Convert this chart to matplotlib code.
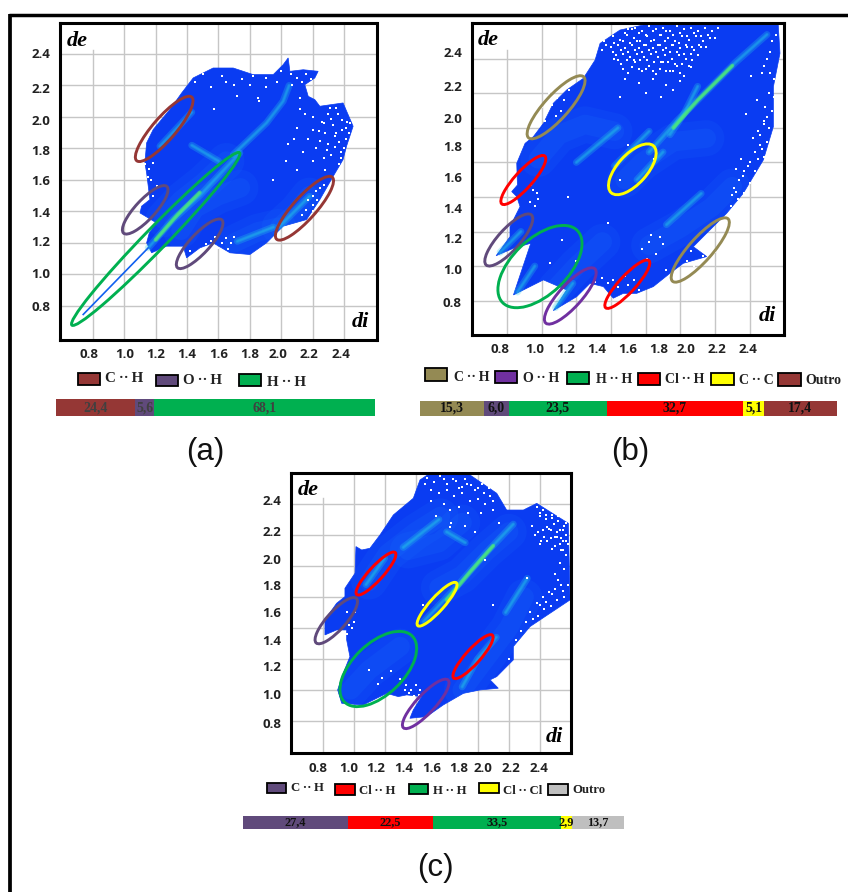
from matplotlib import pyplot as plt
from matplotlib.patches import Ellipse, Polygon, Rectangle
import numpy as np

BROWN = "#953735"
SLATE = "#604a7b"
GREEN = "#00b050"
RED = "#ff0000"
YELLOW = "#ffff00"
TAN = "#948a54"
PURPLE = "#7030a0"
GRAY = "#bfbfbf"
BLUE = "#0a3cf2"
SANS = ["Open Sans", "DejaVu Sans"]
SERIF = ["Liberation Serif", "DejaVu Serif"]

tickLabels = ["0.8", "1.0", "1.2", "1.4", "1.6", "1.8", "2.0", "2.2", "2.4"]

# panel a
aOutlineX = [1.174, 1.142, 1.159, 1.205, 1.10, 1.11, 1.163, 1.142, 1.131, 1.142, 1.184, 1.29, 1.365, 1.439, 1.566,
             1.694, 1.821, 1.949, 2.012, 2.044, 2.055, 2.14, 2.235, 2.214, 2.15, 2.172, 2.214, 2.246, 2.394, 2.458,
             2.416, 2.394, 2.331, 2.246, 2.161, 2.012, 1.906, 1.80, 1.673, 1.566, 1.481, 1.397, 1.375, 1.269]
aOutlineY = [1.137, 1.20, 1.263, 1.327, 1.39, 1.433, 1.475, 1.644, 1.708, 1.835, 1.92, 2.047, 2.152, 2.248, 2.311,
             2.311, 2.269, 2.269, 2.332, 2.375, 2.29, 2.30, 2.29, 2.248, 2.205, 2.131, 2.11, 2.068, 2.089, 1.941,
             1.814, 1.729, 1.623, 1.475, 1.348, 1.306, 1.20, 1.126, 1.137, 1.20, 1.168, 1.105, 1.179, 1.179]
aSpeckX = [2.2, 2.26, 2.3, 2.33, 2.36, 2.28, 2.34, 2.39, 2.42, 2.37, 2.3, 2.25, 2.41, 2.43, 2.2, 2.17, 2.22, 2.32,
           2.38, 2.27, 2.2, 2.14, 2.1, 2.08, 2.04, 1.45, 1.5, 1.62, 1.75, 1.8, 1.9, 1.97, 1.86, 2.1, 2.16, 2.19,
           2.06, 2.12, 2.15, 1.72, 2.2, 2.22, 2.25, 2.27, 2.2, 2.17, 2.23, 2.16, 2.2, 2.13, 2.27, 1.13, 1.16, 1.18,
           1.15, 1.17, 1.14, 1.18, 1.21, 1.58, 1.62, 1.65, 1.68, 1.6, 1.66, 1.7, 1.55, 1.52, 1.57, 1.85, 2.03, 1.95,
           2.1, 1.42, 2.35, 2.39, 2.31, 2.28, 2.4, 2.44, 2.37, 2.32, 2.35, 2.27, 2.41, 2.24, 2.34, 2.38, 2.29, 2.12,
           2.07, 1.9, 1.7, 1.55, 1.65, 1.82, 2.0, 2.13]
aSpeckY = [2.0, 1.97, 2.02, 1.95, 2.02, 1.9, 1.88, 1.92, 1.97, 1.84, 1.83, 1.85, 1.86, 1.9, 1.92, 1.86, 1.8, 1.76,
           1.78, 1.74, 1.72, 1.78, 1.93, 1.86, 1.83, 2.22, 2.27, 2.26, 2.24, 2.2, 2.25, 2.22, 2.1, 2.25, 2.27, 2.24,
           2.27, 2.12, 2.02, 2.13, 1.5, 1.53, 1.55, 1.5, 1.44, 1.47, 1.47, 1.41, 1.4, 1.38, 1.57, 1.7, 1.67, 1.71,
           1.62, 1.6, 1.55, 1.5, 1.56, 1.24, 1.2, 1.23, 1.2, 1.17, 1.16, 1.24, 1.21, 1.19, 2.05, 2.12, 1.72, 1.6,
           1.66, 1.15, 2.06, 1.98, 2.06, 1.66, 1.8, 1.96, 1.7, 1.99, 1.9, 1.96, 1.93, 1.91, 1.81, 1.74, 1.79, 2.05,
           2.2, 2.19, 2.2, 2.19, 2.22, 2.26, 2.29, 2.22]
aSoftX = [[1.25, 1.36, 1.5, 1.65], [1.36, 1.45, 1.6, 1.74], [1.99, 2.1, 2.18], [1.7, 1.85, 1.98]]
aSoftY = [[1.35, 1.47, 1.58, 1.72], [1.28, 1.42, 1.5, 1.55], [1.3, 1.4, 1.5], [1.2, 1.27, 1.3]]
aRidgeX = [[1.152, 1.31, 1.48, 1.736], [1.694, 1.906, 2.012, 2.05], [1.227, 1.43], [1.99, 2.18], [1.43, 1.6], [1.72, 1.95]]
aRidgeY = [[1.168, 1.348, 1.5, 1.771], [1.761, 1.962, 2.1, 2.2], [1.814, 2.03], [1.306, 1.496], [1.82, 1.72], [1.21, 1.3]]
aHotX = [[1.2, 1.34, 1.48]]
aHotY = [[1.22, 1.38, 1.52]]
aTailX = [0.738, 1.152]
aTailY = [0.745, 1.168]
aEllipses = [(1.254, 1.924, 0.535, 0.145, 49, BROWN), (2.148, 1.42, 0.53, 0.145, 48, BROWN),
             (1.133, 1.41, 0.405, 0.125, 47, SLATE), (1.48, 1.194, 0.415, 0.125, 47, SLATE),
             (1.20, 1.225, 1.53, 0.14, 45.7, GREEN)]
aTickX = [0.777, 1.004, 1.197, 1.399, 1.60, 1.802, 1.976, 2.176, 2.378]
aTickY = [0.802, 1.007, 1.213, 1.399, 1.60, 1.79, 1.983, 2.186, 2.406]
aGrid = [0.8, 1.0, 1.2, 1.4, 1.6, 1.8, 2.0, 2.2, 2.4]

# panel b
bOutlineX = [0.837, 0.885, 0.937, 0.837, 0.737, 0.817, 0.817, 0.846, 0.875, 0.856, 0.827, 0.86, 0.856, 0.904, 0.952,
             1.01, 1.067, 1.144, 1.24, 1.308, 1.337, 1.452, 1.587, 2.365, 2.375, 2.337, 2.337, 2.279, 2.163, 2.067,
             1.952, 1.875, 1.952, 1.817, 1.74, 1.644, 1.548, 1.471, 1.413, 1.356, 1.279, 1.202, 1.067, 1.144, 1.01]
bOutlineY = [0.833, 0.977, 1.132, 1.103, 1.06, 1.17, 1.228, 1.286, 1.344, 1.402, 1.431, 1.469, 1.595, 1.71, 1.749,
             1.826, 1.942, 2.019, 2.086, 2.192, 2.289, 2.366, 2.395, 2.395, 2.231, 2.038, 1.807, 1.614, 1.421, 1.305,
             1.19, 1.112, 1.055, 1.016, 0.958, 0.881, 0.842, 0.842, 0.814, 0.881, 0.90, 0.823, 0.742, 0.862, 0.92]
bSpeckX = [1.38, 1.42, 1.46, 1.5, 1.54, 1.58, 1.62, 1.66, 1.7, 1.74, 1.78, 1.82, 1.86, 1.9, 1.94, 1.98, 2.02,
           1.36, 1.41, 1.45, 1.49, 1.53, 1.57, 1.61, 1.65, 1.69, 1.73, 1.77, 1.81, 1.85, 1.89, 1.93, 1.97,
           1.4, 1.44, 1.48, 1.52, 1.56, 1.6, 1.64, 1.68, 1.72, 1.76, 1.8, 1.84, 1.88, 1.92,
           1.43, 1.47, 1.51, 1.55, 1.59, 1.63, 1.67, 1.71, 1.75, 1.79, 1.83, 1.87,
           1.46, 1.54, 1.62, 1.7, 1.78, 1.86, 1.5, 1.58, 1.66, 1.74, 1.82,
           1.42, 1.48, 1.56, 1.64, 1.72, 1.8, 1.35, 1.45, 1.6, 1.69, 1.76,
           2.33, 2.3, 2.27, 2.34, 2.31, 2.29, 2.33, 2.28, 2.31, 2.25, 2.3, 2.27, 2.22, 2.25, 2.28, 2.2, 2.23, 2.17,
           2.2, 2.14, 2.17, 2.11, 2.13, 2.09, 2.1, 2.21, 2.18, 2.28, 2.32, 2.35, 2.24, 2.26, 2.12, 2.15,
           1.04, 1.06, 1.09, 1.11, 1.13, 1.16, 1.08, 1.02, 1.0, 1.12, 0.95, 0.97, 0.93, 0.96, 0.94, 0.98,
           1.9, 1.86, 1.84, 1.93, 1.97, 2.02, 1.88, 2.0, 1.5, 1.53, 1.48, 1.56, 1.44, 1.41, 1.38, 1.35, 1.31,
           1.58, 1.62, 1.66, 1.7, 1.63, 1.68, 1.61, 1.72, 1.2, 1.05, 1.12, 1.5, 1.15, 1.65, 1.38, 1.45,
           1.39, 1.44, 1.48, 1.52, 1.56, 1.6, 1.64, 1.68, 1.72, 1.76, 1.8, 1.84, 1.88, 1.92, 1.96, 2.0,
           1.37, 1.42, 1.47, 1.51, 1.55, 1.59, 1.63, 1.67, 1.71, 1.75, 1.79, 1.83, 1.87, 1.91, 1.95,
           1.41, 1.46, 1.5, 1.54, 1.58, 1.62, 1.66, 1.7, 1.74, 1.78, 1.82, 1.86, 1.9,
           1.44, 1.49, 1.53, 1.57, 1.61, 1.65, 1.69, 1.73, 1.77, 1.81, 1.85,
           1.47, 1.52, 1.56, 1.6, 1.64, 1.68, 1.72, 1.76, 1.8, 2.32, 2.34, 2.3, 2.28, 2.26, 2.23, 2.19, 2.16, 2.12]
bSpeckY = [2.38, 2.36, 2.39, 2.37, 2.38, 2.36, 2.39, 2.37, 2.38, 2.36, 2.39, 2.37, 2.38, 2.36, 2.38, 2.36, 2.38,
           2.3, 2.33, 2.31, 2.34, 2.32, 2.3, 2.33, 2.31, 2.34, 2.32, 2.3, 2.33, 2.31, 2.33, 2.3, 2.32,
           2.27, 2.28, 2.26, 2.28, 2.26, 2.28, 2.26, 2.28, 2.26, 2.28, 2.26, 2.27, 2.25, 2.27,
           2.22, 2.23, 2.21, 2.23, 2.21, 2.23, 2.21, 2.22, 2.2, 2.22, 2.2, 2.19,
           2.17, 2.18, 2.16, 2.18, 2.16, 2.15, 2.12, 2.13, 2.11, 2.13, 2.1,
           2.2, 2.08, 2.06, 2.08, 2.05, 2.07, 2.25, 1.98, 2.0, 1.98, 2.02,
           2.3, 2.2, 2.12, 2.08, 2.0, 1.92, 1.9, 1.84, 1.8, 1.78, 1.72, 1.68, 1.74, 1.62, 1.63, 1.6, 1.55, 1.55,
           1.48, 1.5, 1.42, 1.45, 1.39, 1.35, 1.41, 2.1, 1.88, 2.16, 2.24, 2.34, 1.96, 1.7, 1.56, 1.62,
           2.0, 1.93, 1.97, 1.9, 1.96, 2.02, 1.87, 1.84, 1.92, 2.07, 1.44, 1.42, 1.37, 1.35, 1.47, 1.39,
           1.12, 1.09, 1.03, 1.06, 1.03, 0.98, 1.0, 1.08, 0.89, 0.92, 0.94, 0.86, 0.88, 0.92, 0.9, 0.93, 0.91,
           1.1, 1.14, 1.07, 1.13, 1.18, 1.17, 1.04, 0.98, 1.03, 1.02, 1.15, 1.7, 1.4, 1.62, 1.25, 1.5,
           2.35, 2.37, 2.35, 2.37, 2.35, 2.34, 2.36, 2.34, 2.36, 2.34, 2.35, 2.33, 2.35, 2.33, 2.34, 2.32,
           2.28, 2.29, 2.3, 2.29, 2.3, 2.28, 2.3, 2.28, 2.3, 2.28, 2.29, 2.28, 2.27, 2.28, 2.27,
           2.24, 2.25, 2.24, 2.25, 2.24, 2.25, 2.24, 2.25, 2.24, 2.24, 2.23, 2.23, 2.22,
           2.19, 2.19, 2.19, 2.19, 2.19, 2.18, 2.18, 2.18, 2.17, 2.17, 2.16,
           2.14, 2.15, 2.14, 2.14, 2.13, 2.14, 2.13, 2.13, 2.12, 2.12, 1.98, 1.86, 1.82, 1.76, 1.66, 1.58, 1.52, 1.43]
bSoftX = [[0.98, 1.1, 1.25, 1.42], [1.48, 1.58, 1.76, 1.95], [1.62, 1.8, 1.98, 2.1], [1.08, 1.2, 1.35]]
bSoftY = [[1.62, 1.76, 1.82, 1.78], [1.5, 1.6, 1.72, 1.74], [1.12, 1.22, 1.34, 1.46], [0.87, 1.0, 1.14]]
bRidgeX = [[1.62, 1.78, 1.95, 2.12, 2.3], [0.76, 0.88], [0.86, 0.96], [1.08, 1.18], [1.72, 1.92], [1.2, 1.44], [1.42, 1.62],
           [1.74, 1.82, 1.9], [1.55, 1.7]]
bRidgeY = [[1.66, 1.84, 2.01, 2.18, 2.34], [1.08, 1.2], [0.85, 1.0], [0.76, 0.9], [1.24, 1.42], [1.6, 1.8], [1.58, 1.78],
           [1.76, 1.88, 2.04], [1.5, 1.66]]
bHotX = [[1.76, 1.9, 2.1]]
bHotY = [[1.8, 1.96, 2.16]]
bEllipses = [(1.083, 1.919, 0.475, 0.14, 48, TAN), (1.915, 1.093, 0.483, 0.135, 48.5, TAN),
             (0.894, 1.498, 0.372, 0.1, 48, RED), (1.494, 0.895, 0.37, 0.095, 47.5, RED),
             (0.81, 1.151, 0.39, 0.125, 48, SLATE), (0.99, 0.997, 0.6, 0.32, 44, GREEN),
             (1.165, 0.827, 0.423, 0.13, 48, PURPLE), (1.523, 1.56, 0.365, 0.17, 48, YELLOW)]
bTickX = [0.762, 0.962, 1.137, 1.315, 1.496, 1.675, 1.833, 2.012, 2.192]
bTickY = [0.794, 0.983, 1.161, 1.338, 1.515, 1.693, 1.859, 2.04, 2.241]
bGrid = [0.8, 1.0, 1.2, 1.4, 1.6, 1.8, 2.0, 2.2]

# panel c
cOutlineX = [1.363, 1.385, 1.439, 1.342, 1.288, 1.213, 1.148, 1.062, 0.923, 0.897, 0.933, 0.976, 0.955, 0.955, 0.89,
             0.815, 0.815, 0.89, 0.944, 0.944, 1.009, 1.015, 1.052, 1.105, 1.17, 1.256, 1.385, 1.428, 1.492, 1.751,
             1.923, 1.987, 2.095, 2.181, 2.385, 2.396, 2.267, 2.138, 2.03, 2.03, 1.923, 1.88, 1.933, 1.815, 1.708,
             1.578, 1.471]
cOutlineY = [0.817, 0.871, 0.957, 0.968, 0.957, 0.978, 0.946, 0.903, 0.914, 1.00, 1.108, 1.215, 1.323, 1.387, 1.387,
             1.355, 1.452, 1.559, 1.602, 1.656, 1.753, 1.925, 1.903, 1.914, 2.0, 2.129, 2.237, 2.355, 2.398, 2.387,
             2.269, 2.161, 2.161, 2.204, 2.075, 1.581, 1.495, 1.409, 1.28, 1.194, 1.086, 1.065, 1.011, 1.00, 0.978,
             0.903, 0.828]
cSpeckX = [1.47, 1.52, 1.56, 1.6, 1.64, 1.68, 1.72, 1.76, 1.8, 1.84, 1.88, 1.55, 1.6, 1.65, 1.7, 1.75, 1.8, 1.85,
           1.5, 1.58, 1.62, 1.68, 1.74, 1.82, 1.9, 1.53, 1.63, 1.72, 1.78, 1.94,
           2.18, 2.22, 2.26, 2.3, 2.34, 2.37, 2.2, 2.24, 2.28, 2.32, 2.36, 2.25, 2.29, 2.33, 2.37, 2.27, 2.31, 2.35,
           2.38, 2.15, 2.19, 2.23, 2.3, 2.34, 2.37, 2.2, 2.36, 2.38, 2.33, 2.3,
           2.34, 2.3, 2.26, 2.22, 2.18, 2.14, 2.31, 2.27, 2.23, 2.19, 2.36, 2.11, 2.08, 2.05,
           0.96, 0.98, 1.0, 0.97, 0.99, 1.01, 0.96, 1.34, 1.37, 1.4, 1.43, 1.36, 1.39, 1.42, 1.33,
           1.1, 1.18, 1.16, 1.24, 1.3, 1.45, 1.62, 1.85, 2.0, 1.9, 2.12,
           2.2, 2.24, 2.28, 2.32, 2.27, 2.31, 2.35, 2.22, 2.26, 2.3, 2.34, 2.17, 2.21, 2.25, 2.33, 2.37, 2.28, 2.35,
           1.73, 1.78, 1.83, 1.87, 1.9, 1.66, 1.7, 1.58, 1.46, 1.5, 2.32, 2.28, 2.24, 2.2, 2.35, 2.16]
cSpeckY = [2.37, 2.34, 2.38, 2.33, 2.36, 2.3, 2.36, 2.32, 2.3, 2.27, 2.25, 2.27, 2.29, 2.25, 2.27, 2.22, 2.23, 2.2,
           2.22, 2.2, 2.16, 2.18, 2.14, 2.14, 2.16, 2.12, 2.08, 2.06, 2.02, 2.08,
           2.18, 2.16, 2.19, 2.15, 2.12, 2.08, 2.12, 2.1, 2.13, 2.09, 2.06, 2.05, 2.07, 2.03, 2.0, 1.98, 1.99, 1.96,
           1.94, 2.06, 2.02, 1.99, 1.93, 1.9, 1.87, 1.94, 1.78, 1.68, 1.82, 1.75,
           1.68, 1.65, 1.63, 1.6, 1.56, 1.5, 1.58, 1.54, 1.52, 1.48, 1.6, 1.44, 1.38, 1.32,
           1.5, 1.47, 1.44, 1.42, 1.4, 1.5, 1.36, 1.03, 1.0, 1.03, 1.0, 0.98, 0.96, 0.97, 1.0,
           1.13, 1.08, 1.04, 1.12, 1.07, 1.55, 2.05, 1.84, 1.2, 1.55, 1.72,
           2.14, 2.13, 2.11, 2.12, 2.03, 2.02, 2.03, 2.03, 2.04, 1.99, 1.98, 2.0, 1.96, 1.96, 1.94, 1.96, 1.91, 1.9,
           2.33, 2.29, 2.33, 2.3, 2.22, 2.35, 2.31, 2.36, 2.33, 2.29, 1.71, 1.62, 1.57, 1.55, 1.64, 1.46]
cSoftX = [[1.1, 1.22, 1.4, 1.56], [1.55, 1.7, 1.86, 2.0], [1.7, 1.85, 2.0, 2.1], [0.98, 1.1, 1.3], [1.35, 1.55, 1.7]]
cSoftY = [[1.7, 1.88, 2.02, 2.12], [1.66, 1.74, 1.9, 2.02], [1.0, 1.2, 1.4, 1.6], [1.0, 1.13, 1.28], [1.9, 1.95, 2.08]]
cRidgeX = [[1.45, 1.65, 1.85, 2.03], [1.7, 1.8, 1.92], [1.08, 1.2], [1.98, 2.12], [1.32, 1.55], [1.6, 1.72]]
cRidgeY = [[1.44, 1.65, 1.88, 2.07], [1.02, 1.2, 1.34], [1.68, 1.85], [1.5, 1.72], [1.92, 2.1], [2.02, 1.95]]
cHotX = [[1.6, 1.75, 1.9]]
cHotY = [[1.58, 1.76, 1.93]]
cEllipses = [(1.144, 1.751, 0.368, 0.09, 47.5, RED), (0.888, 1.447, 0.387, 0.12, 48, SLATE),
             (1.538, 1.553, 0.372, 0.09, 48, YELLOW), (1.77, 1.215, 0.373, 0.095, 48, RED),
             (1.159, 1.135, 0.61, 0.33, 44, GREEN), (1.465, 0.91, 0.422, 0.12, 47, PURPLE)]
cTickX = [0.768, 0.968, 1.142, 1.322, 1.501, 1.679, 1.836, 2.015, 2.193]
cTickY = [0.789, 0.974, 1.155, 1.325, 1.505, 1.677, 1.845, 2.026, 2.224]
cGrid = [0.8, 1.0, 1.2, 1.4, 1.6, 1.8, 2.0, 2.2]

# contribution bars
aBarValues = [24.4, 5.6, 68.1]
aBarColors = [BROWN, SLATE, GREEN]
bBarValues = [15.3, 6.0, 23.5, 32.7, 5.1, 17.4]
bBarColors = [TAN, SLATE, GREEN, RED, YELLOW, BROWN]
cBarValues = [27.4, 22.5, 33.5, 2.9, 13.7]
cBarColors = [SLATE, RED, GREEN, YELLOW, GRAY]

W, H = 848, 892


def pixelAxes(fig, left, top, right, bottom):
    return fig.add_axes([left/W, 1 - bottom/H, (right - left)/W, (bottom - top)/H])


def glow(ax, x, y, widths, color, alpha):
    for w in widths:
        ax.plot(x, y, color=color, lw=w, alpha=alpha, solid_capstyle="round", zorder=3, clip_on=True)


def drawPanel(fig, box, lims, grid, firstTop, outline, speck, soft, ridge, hot, ellipses, ticks, tail=None):
    ax = pixelAxes(fig, *box)
    ax.set_xlim(lims[0], lims[1])
    ax.set_ylim(lims[2], lims[3])
    for g in grid:
        top = firstTop if g == grid[0] else lims[3]
        ax.plot([g, g], [lims[2], top], color="#c6c6c6", lw=1.0, zorder=1)
        ax.plot([lims[0], lims[1]], [g, g], color="#c6c6c6", lw=1.0, zorder=1)
    cloud = Polygon(np.column_stack(outline), closed=True, fc=BLUE, ec=BLUE, lw=0.5, zorder=2)
    ax.add_patch(cloud)
    for x, y in zip(*soft):
        for line in ax.plot(x, y, color="#1f86ff", lw=26, alpha=0.10, solid_capstyle="round", zorder=3):
            line.set_clip_path(cloud)
        for line in ax.plot(x, y, color="#1f86ff", lw=14, alpha=0.12, solid_capstyle="round", zorder=3):
            line.set_clip_path(cloud)
    for x, y in zip(*ridge):
        glow(ax, x, y, [5, 2.5, 1.2], "#25c8e8", 0.28)
    for x, y in zip(*hot):
        glow(ax, x, y, [3, 1.4], "#50f070", 0.6)
    if tail:
        ax.plot(tail[0], tail[1], color="#1060f0", lw=1.2, zorder=3)
    ax.plot(speck[0], speck[1], ls="none", marker="s", ms=1.9, mfc="white", mec="white", mew=0, zorder=4)
    for cx, cy, major, minor, angle, color in ellipses:
        ax.add_patch(Ellipse((cx, cy), major, minor, angle=angle, fc="none", ec=color, lw=2.1, zorder=5))
    ax.set_xticks(ticks[0], tickLabels, fontfamily=SANS, fontweight="bold", fontsize=9.5, color="#222222")
    ax.set_yticks(ticks[1], tickLabels, fontfamily=SANS, fontweight="bold", fontsize=9.5, color="#222222")
    ax.tick_params(length=0)
    ax.tick_params(axis="x", pad=6)
    ax.tick_params(axis="y", pad=7)
    for s in ax.spines.values():
        s.set_linewidth(2.2)
        s.set_zorder(6)
    return ax


def drawBar(fig, box, values, colors, textColor, size):
    ax = pixelAxes(fig, *box)
    left = 0
    for v, c in zip(values, colors):
        ax.barh(0, v, left=left, height=1, color=c)
        ax.text(left + v/2, -0.02, f"{v:.1f}".replace(".", ","), ha="center", va="center",
                family=SERIF, weight="bold", fontsize=size, color=textColor)
        left += v
    ax.set_xlim(0, left)
    ax.set_ylim(-0.5, 0.5)
    ax.axis("off")


def drawLegend(ov, swatches, labels, colors, size):
    for (x0, y0, x1, y1, tx, ty), lab, c in zip(swatches, labels, colors):
        ov.add_patch(Rectangle((x0, y0), x1 - x0, y1 - y0, fc=c, ec="black", lw=1.3))
        ov.text(tx, ty, lab, ha="left", va="center", family=SERIF, weight="bold", fontsize=size, color="#222222")


def main():
    fig = plt.figure(figsize=(W/100, H/100), dpi=100)

    drawPanel(fig, (60, 23, 376.5, 339.5), (0.59, 2.607, 0.586, 2.597), aGrid, 2.427,
              (aOutlineX, aOutlineY), (aSpeckX, aSpeckY), (aSoftX, aSoftY), (aRidgeX, aRidgeY), (aHotX, aHotY),
              aEllipses, (aTickX, aTickY), tail=(aTailX, aTailY))
    drawPanel(fig, (471.7, 23.3, 784.3, 335), (0.596, 2.4, 0.601, 2.405), bGrid, 2.25,
              (bOutlineX, bOutlineY), (bSpeckX, bSpeckY), (bSoftX, bSoftY), (bRidgeX, bRidgeY), (bHotX, bHotY),
              bEllipses, (bTickX, bTickY))
    drawPanel(fig, (291, 473.3, 571, 753.3), (0.596, 2.402, 0.591, 2.398), cGrid, 2.237,
              (cOutlineX, cOutlineY), (cSpeckX, cSpeckY), (cSoftX, cSoftY), (cRidgeX, cRidgeY), (cHotX, cHotY),
              cEllipses, (cTickX, cTickY))

    drawBar(fig, (56, 399.5, 375.3, 415.5), aBarValues, aBarColors, "#404040", 10)
    drawBar(fig, (420, 400.7, 836.7, 415.7), bBarValues, bBarColors, "#111111", 10)
    drawBar(fig, (243.3, 816, 624, 828.7), cBarValues, cBarColors, "#111111", 8.8)

    # full-figure layer in pixels for legends and captions
    ov = fig.add_axes([0, 0, 1, 1], zorder=10)
    ov.set_xlim(0, W)
    ov.set_ylim(H, 0)
    ov.axis("off")
    ov.patch.set_alpha(0)

    drawLegend(ov, [(77.7, 372.7, 100, 385, 105, 379), (155.7, 374.7, 178, 386.3, 183, 381),
                    (239, 374, 261.3, 386, 267, 382)],
               ["C\u2009··\u2009H", "O\u2009··\u2009H", "H\u2009··\u2009H"], [BROWN, SLATE, GREEN], 10.8)
    drawLegend(ov, [(424.7, 368.3, 447, 380.7, 453.7, 377.7), (494.7, 370.7, 516.7, 383.3, 523.3, 378),
                    (566.7, 372, 589, 384, 596, 379.3), (638, 372.7, 660, 385.3, 665, 379.3),
                    (711.3, 372.7, 733.7, 384.7, 739.3, 380), (778.3, 373.3, 800.7, 385.7, 805.3, 380)],
               ["C\u2009··\u2009H", "O\u2009··\u2009H", "H\u2009··\u2009H", "Cl\u2009··\u2009H", "C\u2009··\u2009C", "Outro"],
               [TAN, PURPLE, GREEN, RED, YELLOW, BROWN], 10)
    drawLegend(ov, [(266.7, 782.7, 286, 793.3, 291, 788.3), (335.3, 784, 355, 794.7, 359.3, 790.7),
                    (408.7, 784, 428.3, 794.3, 433.3, 790.7), (479.3, 783.3, 498.7, 793.3, 503.3, 790.7),
                    (548.3, 784.3, 567.7, 794.7, 572.3, 790)],
               ["C\u2009··\u2009H", "Cl\u2009··\u2009H", "H\u2009··\u2009H", "Cl\u2009··\u2009Cl", "Outro"],
               [SLATE, RED, GREEN, YELLOW, GRAY], 9.2)

    for x, y, lab, ha in [(67, 41, "de", "left"), (369, 322, "di", "right"), (478, 40, "de", "left"),
                          (776, 316, "di", "right"), (298, 490, "de", "left"), (563, 737, "di", "right")]:
        ov.text(x, y, lab, ha=ha, va="center", family=SERIF, style="italic", weight="bold", fontsize=16)
    for x, y, lab in [(205, 452, "(a)"), (630, 452, "(b)"), (435, 868, "(c)")]:
        ov.text(x, y, lab, ha="center", va="center", family="Liberation Sans", fontsize=22.5, color="#111111")

    # outer rule of the original figure
    ov.plot([8.5, W], [15.3, 15.3], color="black", lw=2.5, solid_capstyle="butt")
    ov.plot([10.3, 10.3], [14, H], color="black", lw=2.7, solid_capstyle="butt")

    fig.savefig("out.png", dpi=100)
    plt.close()


if __name__ == "__main__":
    main()
